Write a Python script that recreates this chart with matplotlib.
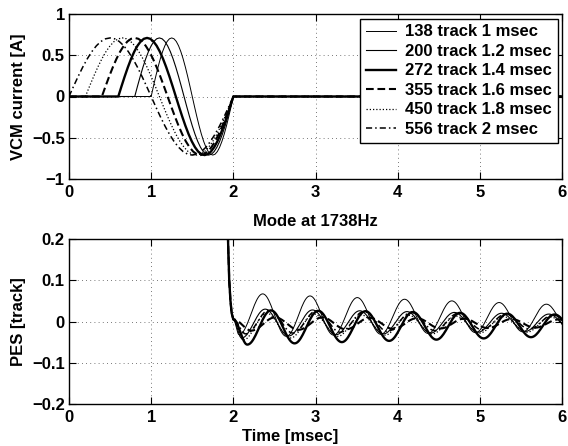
import numpy as np
import matplotlib
matplotlib.use("Agg")
import matplotlib.pyplot as plt

plt.rcParams['font.family'] = ['Liberation Sans', 'DejaVu Sans']
plt.rcParams['font.weight'] = 'bold'
FS = 12
plt.rcParams['font.size'] = FS

# ---------------- data ----------------
labels = ["138 track 1 msec", "200 track 1.2 msec", "272 track 1.4 msec",
          "355 track 1.6 msec", "450 track 1.8 msec", "556 track 2 msec"]
durations = [1.0, 1.2, 1.4, 1.6, 1.8, 2.0]          # msec, pulse ends at 2 msec
pulse_end = 2.0
amplitude = 0.71                                      # A
# one period of the current pulse, normalised
pulse_shape = [0, .174, .342, .5, .643, .766, .866, .940, .985, 1, .985, .940, .866,
               .766, .643, .5, .342, .174, 0, -.174, -.342, -.5, -.643, -.766, -.866,
               -.940, -.985, -1, -.985, -.940, -.866, -.766, -.643, -.5, -.342, -.174, 0]

mode_hz = 1738.0
# PES: steep drop at end of seek (shared), then alternating extrema
drop_t = [1.90, 1.935, 1.950, 1.965, 1.980, 2.0]
drop_v = [0.60, 0.20, 0.10, 0.05, 0.02, 0.005]
pes_first_t = [2.07, 2.10, 2.17, 2.22, 2.12, 2.15]
pes_1 = [-0.032, 0.067, -0.036, 0.062, -0.033, 0.058, -0.031, 0.054, -0.029, 0.050, -0.027, 0.046, -0.025, 0.042, -0.023]
pes_2 = [-0.040, 0.030, -0.035, 0.028, -0.032, 0.026, -0.030, 0.024, -0.028, 0.022, -0.026, 0.020, -0.024, 0.018, -0.022]
pes_3 = [-0.056, 0.027, -0.053, 0.026, -0.050, 0.025, -0.047, 0.023, -0.044, 0.021, -0.041, 0.019, -0.038, 0.017, -0.035]
pes_4 = [-0.022, 0.010, -0.020, 0.010, -0.019, 0.009, -0.018, 0.008, -0.017, 0.007, -0.016, 0.006, -0.015, 0.005, -0.014]
pes_5 = [-0.045, 0.020, -0.040, 0.018, -0.036, 0.016, -0.033, 0.015, -0.030, 0.013, -0.028, 0.012, -0.026, 0.011, -0.024]
pes_6 = [-0.030, 0.028, -0.028, 0.026, -0.026, 0.024, -0.024, 0.022, -0.022, 0.020, -0.020, 0.018, -0.018, 0.016, -0.016]
pes_extrema = [pes_1, pes_2, pes_3, pes_4, pes_5, pes_6]

# ---------------- styles ----------------
styles = [dict(color='k', lw=0.7, ls='-'),
          dict(color='k', lw=0.8, ls='-'),
          dict(color='k', lw=1.7, ls='-'),
          dict(color='k', lw=1.5, ls=(0, (3.7, 1.8))),
          dict(color='k', lw=0.9, ls=(0, (1, 1.6))),
          dict(color='k', lw=1.1, ls=(0, (4.0, 2, 1, 2)))]

W, H = 568, 446
fig = plt.figure(figsize=(W / 100, H / 100), dpi=100)
L, R = 69, 562
ax1 = fig.add_axes([L / W, (H - 179) / H, (R - L) / W, (179 - 14) / H])
ax2 = fig.add_axes([L / W, (H - 404) / H, (R - L) / W, (404 - 239) / H])


def style_axes(ax):
    ax.tick_params(direction='in', length=5, width=0.8, top=True, right=True,
                   labelsize=FS, pad=3)
    ax.tick_params(axis='x', pad=4)
    for s in ax.spines.values():
        s.set_linewidth(1.0)
    ax.grid(True, color='k', lw=0.6, ls=(0, (1, 4)), alpha=0.7)
    for lab in ax.get_xticklabels() + ax.get_yticklabels():
        lab.set_fontweight('bold')


# ---------------- top ----------------
shape = np.array(pulse_shape)
for T, st, lab in zip(durations, styles, labels):
    start = pulse_end - T
    tt = start + np.linspace(0, 1, len(shape)) * T
    t = np.concatenate([[0.0], tt, [6.0]])
    v = np.concatenate([[0.0], amplitude * shape, [0.0]])
    ax1.plot(t, v, label=lab, **st)

ax1.set_xlim(0, 6)
ax1.set_ylim(-1, 1)
ax1.set_xticks(range(7))
ax1.set_yticks([-1, -0.5, 0, 0.5, 1])
ax1.set_yticklabels(['\u22121', '\u22120.5', '0', '0.5', '1'])
ax1.set_ylabel('VCM current [A]', fontweight='bold', fontsize=FS)
ax1.yaxis.set_label_coords(-0.087, 0.5)
style_axes(ax1)
leg = ax1.legend(loc='upper right', bbox_to_anchor=(0.992, 0.972), borderaxespad=0,
                 fancybox=False, frameon=True, edgecolor='k', framealpha=1,
                 handlelength=1.8, handletextpad=0.55, borderpad=0.35,
                 labelspacing=0.27, prop={'weight': 'bold', 'size': FS})
leg.get_frame().set_linewidth(1.0)

# ---------------- bottom ----------------
half = 1000.0 / mode_hz / 2.0   # msec
for first, ext, st in zip(pes_first_t, pes_extrema, styles):
    kt = [drop_t[-1]] + [first + i * half for i in range(len(ext))]
    kv = [drop_v[-1]] + list(ext)
    ts, vs = list(drop_t), list(drop_v)
    for a in range(len(kt) - 1):
        s = np.linspace(0, 1, 24)[1:]
        ts.extend(kt[a] + s * (kt[a + 1] - kt[a]))
        vs.extend(kv[a] + (kv[a + 1] - kv[a]) * (1 - np.cos(np.pi * s)) / 2)
    ax2.plot(ts, vs, **st)

ax2.set_xlim(0, 6)
ax2.set_ylim(-0.2, 0.2)
ax2.set_xticks(range(7))
ax2.set_yticks([-0.2, -0.1, 0, 0.1, 0.2])
ax2.set_yticklabels(['\u22120.2', '\u22120.1', '0', '0.1', '0.2'])
ax2.set_ylabel('PES [track]', fontweight='bold', fontsize=FS)
ax2.yaxis.set_label_coords(-0.087, 0.5)
ax2.set_xlabel('Time [msec]', fontweight='bold', fontsize=FS)
ax2.xaxis.set_label_coords(0.448, -0.15)
ax2.set_title('Mode at 1738Hz', fontweight='bold', fontsize=FS, pad=9.5)
style_axes(ax2)

fig.savefig('out.png', dpi=100)
